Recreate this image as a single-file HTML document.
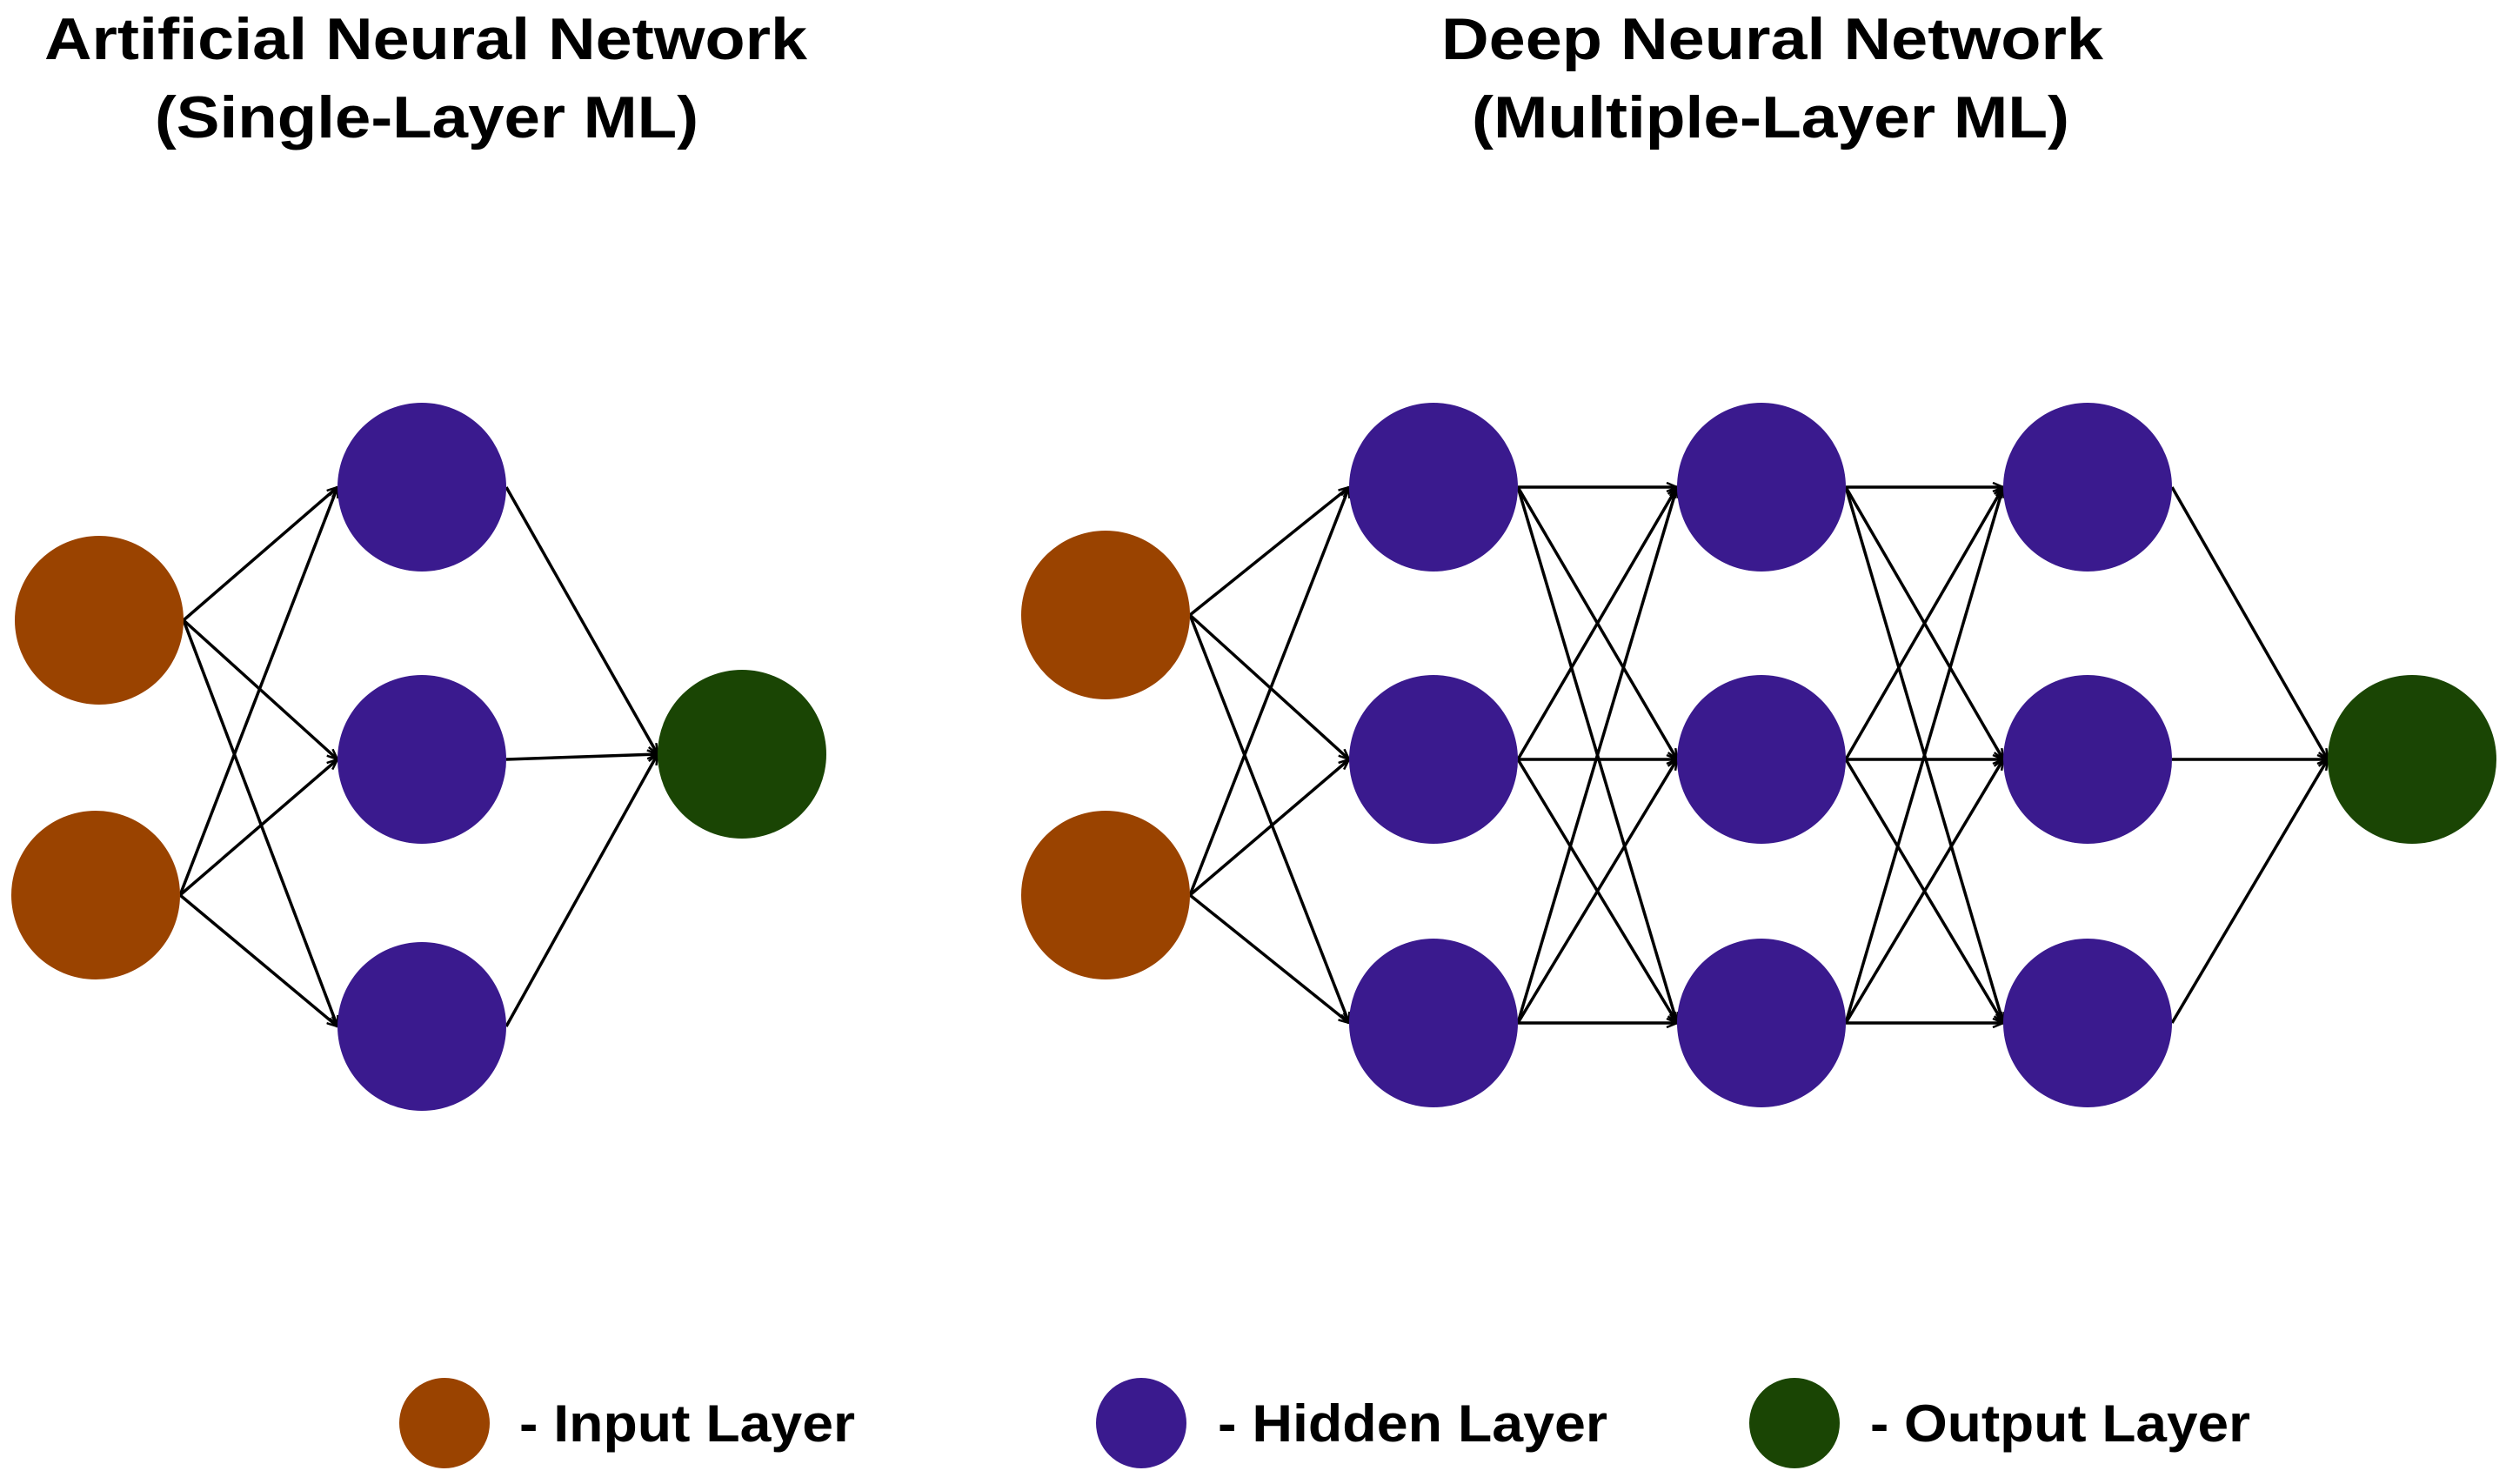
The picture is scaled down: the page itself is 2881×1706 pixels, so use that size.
<!DOCTYPE html>
<html><head><meta charset="utf-8"><style>html,body{margin:0;padding:0;background:#fff}svg{display:block}</style></head>
<body>
<svg width="2881" height="1706" viewBox="0 0 2881 1706" xmlns="http://www.w3.org/2000/svg">
<defs>
<marker id="a" markerWidth="14" markerHeight="12" refX="13" refY="6" orient="auto" markerUnits="userSpaceOnUse">
<path d="M1,1 L13,6 L1,11" fill="none" stroke="#000" stroke-width="2.5"/>
</marker>
</defs>
<g font-family="Liberation Sans, Arial, sans-serif" font-weight="bold" fill="#000" font-size="68" lengthAdjust="spacingAndGlyphs">
<text x="51" y="68" textLength="877" lengthAdjust="spacingAndGlyphs">Artificial Neural Network</text>
<text x="178" y="158" textLength="625" lengthAdjust="spacingAndGlyphs">(Single-Layer ML)</text>
<text x="1657" y="68" textLength="761" lengthAdjust="spacingAndGlyphs">Deep Neural Network</text>
<text x="1692" y="158" textLength="687" lengthAdjust="spacingAndGlyphs">(Multiple-Layer ML)</text>
</g>
<g stroke="#000" stroke-width="3.5" marker-end="url(#a)" id="lines"></g>
<g id="nodes"></g>
<g>
<circle cx="511" cy="1636" r="52" fill="#9a4300"/>
<circle cx="1312" cy="1636" r="52" fill="#3a1a8e"/>
<circle cx="2063" cy="1636" r="52" fill="#1a4504"/>
</g>
<g font-family="Liberation Sans, Arial, sans-serif" font-weight="bold" fill="#000" font-size="60">
<text x="597" y="1657" textLength="386" lengthAdjust="spacingAndGlyphs">- Input Layer</text>
<text x="1400" y="1657" textLength="448" lengthAdjust="spacingAndGlyphs">- Hidden Layer</text>
<text x="2150" y="1657" textLength="437" lengthAdjust="spacingAndGlyphs">- Output Layer</text>
</g>
<script>
var NS="http://www.w3.org/2000/svg",R=97;
var L=document.getElementById('lines'),N=document.getElementById('nodes');
function node(x,y,c){var e=document.createElementNS(NS,'circle');e.setAttribute('cx',x);e.setAttribute('cy',y);e.setAttribute('r',R);e.setAttribute('fill',c);N.appendChild(e);}
function conn(A,B){A.forEach(function(a){B.forEach(function(b){var e=document.createElementNS(NS,'line');e.setAttribute('x1',a[0]+R);e.setAttribute('y1',a[1]);e.setAttribute('x2',b[0]-R);e.setAttribute('y2',b[1]);L.appendChild(e);});});}
var IN='#9a4300',HI='#3a1a8e',OU='#1a4504';
var li=[[114,713],[110,1029]],lh=[[485,560],[485,873],[485,1180]],lo=[[853,867]];
conn(li,lh);conn(lh,lo);
var ri=[[1271,707],[1271,1029]];
var xs=[1648,2025,2400],ys=[560,873,1176];
var H=xs.map(function(x){return ys.map(function(y){return [x,y];});});
var ro=[[2773,873]];
conn(ri,H[0]);conn(H[0],H[1]);conn(H[1],H[2]);conn(H[2],ro);
li.concat(ri).forEach(function(p){node(p[0],p[1],IN);});
lh.concat(H[0],H[1],H[2]).forEach(function(p){node(p[0],p[1],HI);});
lo.concat(ro).forEach(function(p){node(p[0],p[1],OU);});
</script>
</svg>
</body></html>
